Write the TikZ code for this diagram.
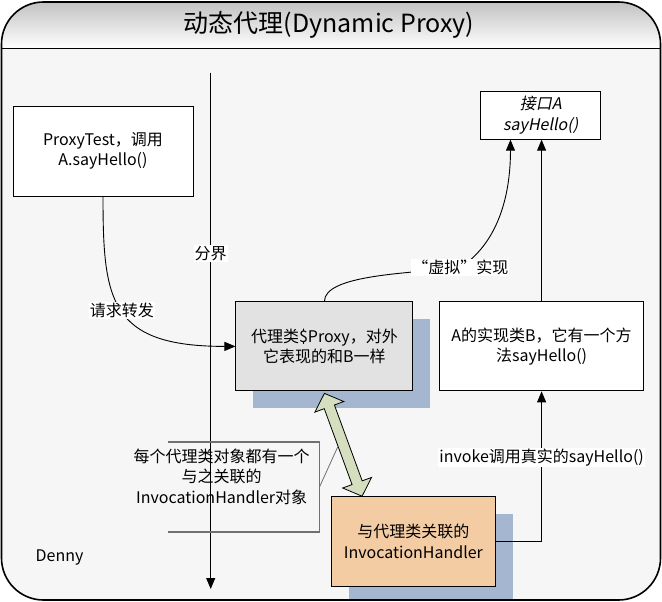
\documentclass[tikz,border=0pt]{standalone}
\usepackage{fontspec}
\setmainfont{Noto Sans CJK SC}[ItalicFont={Noto Sans CJK SC},ItalicFeatures={FakeSlant=0.2}]
\usetikzlibrary{positioning, arrows.meta, calc, shapes.arrows, shadows}

\definecolor{shadowblue}{RGB}{164,182,208}
\definecolor{proxygray}{RGB}{226,226,226}
\definecolor{handlertan}{RGB}{243,204,164}
\definecolor{linkgreen}{RGB}{214,222,192}
\definecolor{notegray}{RGB}{112,112,112}

\begin{document}
\begin{tikzpicture}[x=1pt, y=-1pt, font=\fontsize{16}{20.5}\selectfont,
        box/.style={draw, line width=0.9pt, align=center, inner sep=2pt},
        blueshadow/.style={drop shadow={shadow xshift=17.5pt, shadow yshift=-17.5pt, fill=shadowblue, opacity=1}},
        arr/.style={line width=0.9pt, -{Triangle[length=11pt, width=9pt]}},
        lbl/.style={fill=white, inner sep=1pt},
        fatarrow/.style={double arrow, draw, line width=0.8pt, fill=linkgreen, inner sep=5pt, minimum width=30pt, double arrow head extend=10pt, double arrow tip angle=94}]
    \useasboundingbox (0,0) rectangle (662,602);
    \begin{scope}
        \clip[rounded corners=42pt] (1.5,2) rectangle (660.5,600);
        \fill[gray!7] (0,0) rectangle (662,602);
        \shade[top color=gray!50, bottom color=white] (0,0) rectangle (662,48.5);
        \node (title) at (329,25) {\fontsize{25}{30}\selectfont 动态代理(Dynamic Proxy)};

        % boxes
        \node[box, fill=white, minimum width=180pt, minimum height=90pt] (caller) at (103,151) {ProxyTest，调用\\A.sayHello()};
        \node[box, fill=white, minimum width=120pt, minimum height=48pt, font=\fontsize{16}{20.5}\selectfont\itshape] (iface) at (540.7,115.2) {接口A\\sayHello()};
        \node[box, fill=proxygray, blueshadow, minimum width=177pt, minimum height=89pt] (proxy) at (324.4,346.4) {代理类\$Proxy，对外\\它表现的和B一样};
        \node[box, fill=white, minimum width=204.4pt, minimum height=89pt, right=25.6pt of proxy] (impl) {A的实现类B，它有一个方\\法sayHello()};
        \node[box, fill=handlertan, blueshadow, minimum width=164.7pt, minimum height=89.3pt] (handler) at (413.4,541.3) {与代理类关联的\\InvocationHandler};

        % divider
        \coordinate (divtop) at (210.7,72.7);
        \coordinate (divbot) at (210.7,589);
        \draw[arr] (divtop) -- node[lbl, pos=0.35] {分界} (divbot);

        % connectors
        \draw[arr] (caller.south) .. controls +(0,104) and +(-126,0) .. node[lbl, pos=0.5] {请求转发} (proxy.west);
        \coordinate (vtip) at ($(iface.south west)!0.25!(iface.south east)$);
        \draw[arr] (proxy.north) .. controls +(0,-27) and +(-50,6) .. ++(136,-34) node[lbl] (virt) {“虚拟”实现}
            .. controls +(35,-23) and +(0,61) .. (vtip);
        \draw[arr] (impl.north) -- (impl.north |- iface.south);
        \draw[arr] (handler.east) -| node[lbl, pos=0.78] {invoke调用真实的sayHello()} (impl.south);

        % link between proxy and handler
        \coordinate (linktop) at ($(proxy.south)+(0,2)$);
        \coordinate (linkbot) at ($(handler.north west)!0.19!(handler.north east)$);
        \path let \p1=($(linkbot)-(linktop)$), \n1={atan2(\y1,\x1)}, \n2={veclen(\x1,\y1)} in
            node[fatarrow, minimum height=\n2, rotate=\n1] (link) at ($(linktop)!0.5!(linkbot)$) {};

        % note
        \node[align=center] (note) at (221.7,476.7) {每个代理类对象都有一个\\与之关联的\\InvocationHandler对象};
        \coordinate (ntl) at (168,442);
        \coordinate (ntr) at (319.5,442);
        \coordinate (nbr) at (319.5,532);
        \coordinate (nbl) at (168,532);
        \draw[notegray, line width=1.5pt] (ntl) -- (ntr) -- (nbr) -- (nbl);
        \draw[notegray, line width=0.8pt] ($(ntr)!0.5!(nbr)$) -- (link.south);

        \node (sign) at (59.5,558) {Denny};
    \end{scope}
    \draw[line width=1.6pt, rounded corners=42pt] (1.5,2) rectangle (660.5,600);
    \draw[line width=1.6pt] (1.5,48.5) -- (660.5,48.5);
\end{tikzpicture}
\end{document}
